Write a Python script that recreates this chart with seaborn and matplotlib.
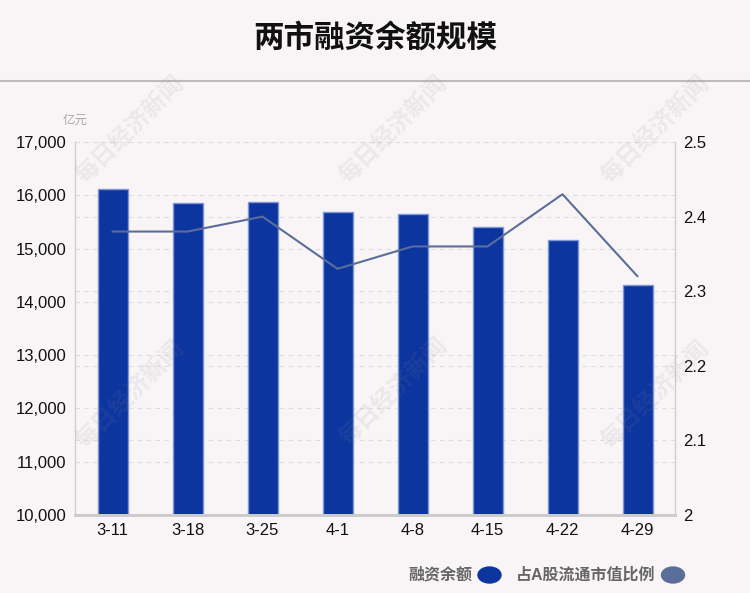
import matplotlib
matplotlib.use("Agg")
import matplotlib.pyplot as plt
import seaborn as sns
import numpy as np
from matplotlib.ticker import FuncFormatter
from matplotlib.patches import Ellipse

categories = ["3-11", "3-18", "3-25", "4-1", "4-8", "4-15", "4-22", "4-29"]
balance = [16120, 15860, 15870, 15690, 15650, 15410, 15160, 14320]
ratio = [2.38, 2.38, 2.40, 2.33, 2.36, 2.36, 2.43, 2.32]
left_ticks = [10000, 11000, 12000, 13000, 14000, 15000, 16000, 17000]
right_ticks = [2.0, 2.1, 2.2, 2.3, 2.4, 2.5]

sns.set_theme(style="white")
plt.rcParams['font.family'] = ['Liberation Sans', 'Noto Sans CJK SC', 'DejaVu Sans']

bg = "#f9f5f7"
bar_color = "#0d35a0"
line_color = "#5a6e99"
grid_color = "#dedede"

fig = plt.figure(figsize=(7.5, 5.93), dpi=100, facecolor=bg)
ax = fig.add_axes([0.1, 0.1315, 0.8, 0.629])
ax.set_facecolor(bg)

lmin, lmax = 10000, 17000
rmin, rmax = 2.0, 2.5

# gridlines (both scales) drawn beneath bars
for t in left_ticks[1:]:
    f = (t - lmin) / (lmax - lmin)
    ax.plot([0, 1], [f, f], transform=ax.transAxes, color=grid_color,
            linestyle=(0, (4, 4)), linewidth=0.8, zorder=0)
for t in right_ticks[1:]:
    f = (t - rmin) / (rmax - rmin)
    ax.plot([0, 1], [f, f], transform=ax.transAxes, color=grid_color,
            linestyle=(0, (4, 4)), linewidth=0.8, zorder=0)

sns.barplot(x=categories, y=balance, ax=ax, color=bar_color, width=0.4,
            edgecolor="#7f97d6", linewidth=1.0, saturation=1, zorder=2)
ax.set_ylim(lmin, lmax)
ax.set_yticks(left_ticks)
ax.yaxis.set_major_formatter(FuncFormatter(lambda v, p: f"{int(v):,}"))
ax.set_xlim(-0.5, len(categories) - 0.5)

ax2 = ax.twinx()
sns.lineplot(x=np.arange(len(categories)), y=ratio, ax=ax2, color=line_color,
             linewidth=1.5, sort=False)
ax2.set_ylim(rmin, rmax)
ax2.set_yticks(right_ticks)
ax2.yaxis.set_major_formatter(FuncFormatter(lambda v, p: f"{v:g}"))

for a in (ax, ax2):
    a.spines["top"].set_visible(False)
    a.spines["left"].set_color("#cccccc")
    a.spines["right"].set_color("#cccccc")
    a.spines["bottom"].set_color("#cccccc")
    a.spines["bottom"].set_linewidth(2)
    a.spines["left"].set_linewidth(0.8)
    a.spines["right"].set_linewidth(0.8)
    a.tick_params(length=0, labelsize=12, colors="#111111", pad=6)
    a.set_xlabel("")
    a.set_ylabel("")

# title and separator line
fig.text(0.5, 0.935, "两市融资余额规模", ha="center", va="center", fontsize=22,
         fontweight="bold", color="#111111")
fig.add_artist(plt.Line2D([0, 1], [1 - 81 / 593, 1 - 81 / 593], color="#bbbbbb",
                          linewidth=1.5, transform=fig.transFigure))

# unit
fig.text(0.1, 1 - 121 / 593, "亿元", ha="center", va="center", fontsize=9,
         color="#aaaaaa")

# watermarks
for (x, y) in [(130, 130), (393, 130), (655, 130), (130, 395), (393, 392), (655, 395)]:
    fig.text(x / 750, 1 - y / 593, "每日经济新闻", rotation=45, ha="center",
             va="center", fontsize=17, fontweight="bold", color="#888888",
             alpha=0.12)

# legend
fig.text(472 / 750, 1 - 575 / 593, "融资余额", ha="right", va="center",
         fontsize=11.5, fontweight="bold", color="#666666")
fig.add_artist(Ellipse((489.5 / 750, 1 - 575 / 593), 23 / 750, 16 / 593,
                       transform=fig.transFigure, color=bar_color))
fig.text(655 / 750, 1 - 575 / 593, "占A股流通市值比例", ha="right", va="center",
         fontsize=11.5, fontweight="bold", color="#666666")
fig.add_artist(Ellipse((673 / 750, 1 - 575 / 593), 23 / 750, 16 / 593,
                       transform=fig.transFigure, color=line_color))

fig.savefig("out.png", dpi=100, facecolor=bg)
